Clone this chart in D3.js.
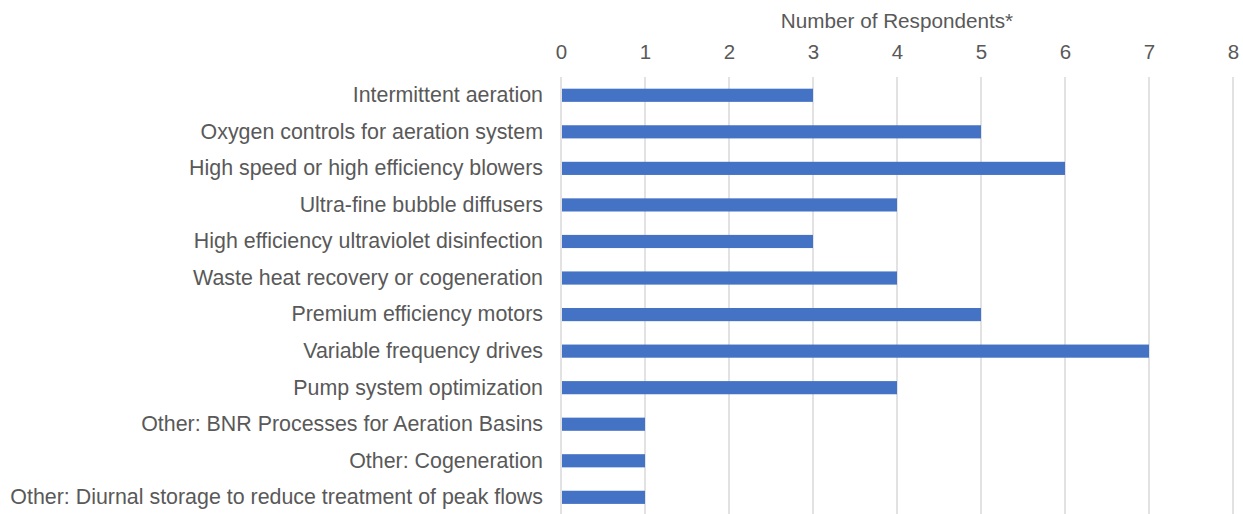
<!DOCTYPE html>
<html>
<head>
<meta charset="utf-8">
<script src="https://cdn.jsdelivr.net/npm/d3@7"></script>
<style>
  html, body { margin: 0; padding: 0; background: #fff; }
  svg text { font-family: "Liberation Sans", Arial, sans-serif; fill: #595959; }
</style>
</head>
<body>
<svg id="chart" width="1243" height="514"></svg>
<script>
// Energy-saving measures and how many respondents reported each
const categories = [
  "Intermittent aeration",
  "Oxygen controls for aeration system",
  "High speed or high efficiency blowers",
  "Ultra-fine bubble diffusers",
  "High efficiency ultraviolet disinfection",
  "Waste heat recovery or cogeneration",
  "Premium efficiency motors",
  "Variable frequency drives",
  "Pump system optimization",
  "Other: BNR Processes for Aeration Basins",
  "Other: Cogeneration",
  "Other: Diurnal storage to reduce treatment of peak flows"
];
const respondents = [3, 5, 6, 4, 3, 4, 5, 7, 4, 1, 1, 1];
const tickValues = [0, 1, 2, 3, 4, 5, 6, 7, 8];
const axisTitle = "Number of Respondents*";

const svg = d3.select("#chart");
const margin = { left: 561, right: 10, top: 77, bottom: 0 };
const width = 1243, height = 514;

const x = d3.scaleLinear().domain([0, 8]).range([margin.left, margin.left + 84 * 8]);
const y = d3.scaleBand().domain(categories)
  .range([margin.top, margin.top + 36.55 * categories.length])
  .paddingInner(0.64).paddingOuter(0.32);

// vertical gridlines
svg.append("g")
  .selectAll("line")
  .data(tickValues)
  .join("line")
  .attr("x1", d => x(d)).attr("x2", d => x(d))
  .attr("y1", margin.top).attr("y2", height)
  .attr("stroke", "#d9d9d9").attr("stroke-width", 1.5);

// top axis tick labels
const xAxis = d3.axisTop(x).tickValues(tickValues).tickSize(0).tickPadding(0);
const gx = svg.append("g").attr("transform", "translate(0,59)").call(xAxis);
gx.select(".domain").remove();
gx.selectAll("text").style("font-size", "20.5px").attr("fill", "#595959");

// axis title
svg.append("text")
  .attr("x", (x(0) + x(8)) / 2).attr("y", 28)
  .attr("text-anchor", "middle")
  .style("font-size", "20.7px")
  .text(axisTitle);

// category labels
const yAxis = d3.axisLeft(y).tickSize(0).tickPadding(18);
const gy = svg.append("g").attr("transform", `translate(${margin.left},0)`).call(yAxis);
gy.select(".domain").remove();
gy.selectAll("text").style("font-size", "21.4px").attr("fill", "#595959");

// bars
svg.append("g")
  .selectAll("rect")
  .data(respondents)
  .join("rect")
  .attr("x", x(0) + 1)
  .attr("y", (d, i) => y(categories[i]))
  .attr("width", d => x(d) - x(0) - 1)
  .attr("height", y.bandwidth())
  .attr("fill", "#4472c4");
</script>
</body>
</html>
